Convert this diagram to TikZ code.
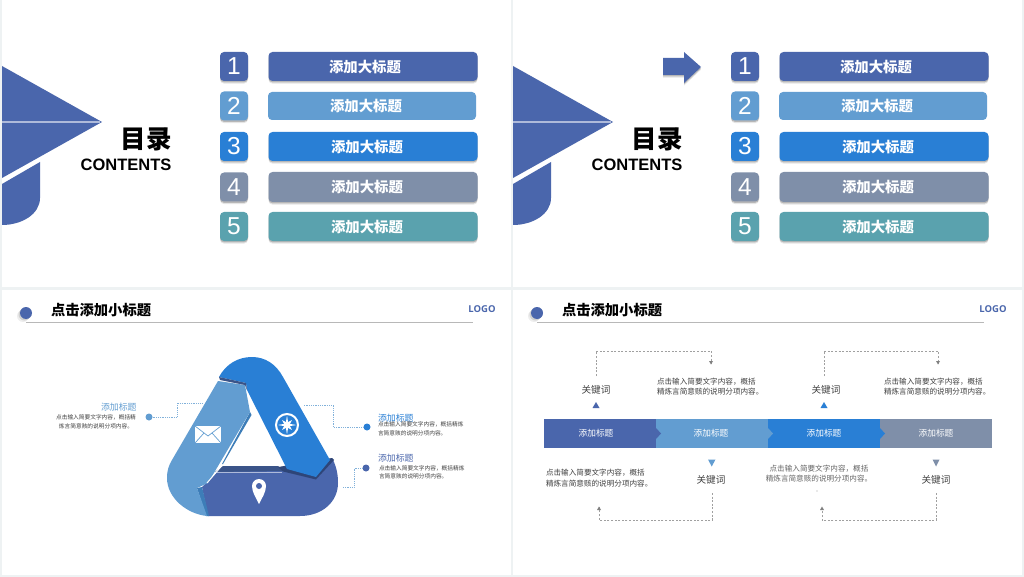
\documentclass[tikz,border=0pt]{standalone}
\usepackage{fontspec}
\setmainfont{Noto Sans CJK SC}
\newfontfamily\latinfont{Liberation Sans}
\newfontfamily\logofont{Open Sans}
\usetikzlibrary{shadows,shapes.geometric,arrows.meta}
\definecolor{acA}{HTML}{4A66AC}
\definecolor{acB}{HTML}{629DD1}
\definecolor{acC}{HTML}{297FD5}
\definecolor{acD}{HTML}{7F8FA9}
\definecolor{acE}{HTML}{5AA2AE}
\definecolor{paneBg}{HTML}{EEF2F3}
\definecolor{bodyText}{HTML}{404040}
\definecolor{navyDark}{HTML}{2E4578}
\definecolor{navyBack}{HTML}{3A5489}
\definecolor{lightSide}{HTML}{3D7DB8}
\definecolor{dashGray}{HTML}{A0A0A0}
\tikzset{
  softshadow/.style={
    drop shadow={shadow xshift=0pt,shadow yshift=-2.6pt,opacity=.10,fill=black},
    drop shadow={shadow xshift=0pt,shadow yshift=-1.4pt,opacity=.20,fill=black}},
  noshadow/.style={},
  tag/.style={inner sep=0pt,outer sep=0pt},
  numbox/.style={tag,rounded corners=4pt,minimum width=28pt,text=white,font=\latinfont\fontsize{24.5}{25}\selectfont},
  barbox/.style={tag,rounded corners=4pt},
  bartext/.style={tag,text=white,font=\bfseries\fontsize{14.4}{15}\selectfont},
  headtitle/.style={tag,anchor=west,text=black,font=\bfseries\fontsize{14.3}{15}\selectfont},
  logotext/.style={tag,text=acA,font=\logofont\bfseries\fontsize{9.5}{10}\selectfont},
  sectitle/.style={tag,anchor=west,font=\fontsize{8.9}{9}\selectfont},
  tinydesc/.style={tag,text=bodyText,font=\fontsize{5.7}{8.4}\selectfont},
  desc/.style={tag,text=bodyText,font=\fontsize{7.6}{10.7}\selectfont},
  keyword/.style={tag,text=bodyText,font=\fontsize{9.6}{10}\selectfont},
  segment/.style={tag,minimum width=112pt,minimum height=29pt,text=white,font=\fontsize{8.7}{9}\selectfont},
  linkdot/.style={tag,circle,minimum size=7pt},
  dotlink/.style={densely dotted,line width=.8pt,acB!80},
  dashlink/.style={dash pattern=on 2pt off 1.6pt,dashGray,line width=.6pt},
}
\begin{document}
\begin{tikzpicture}[x=1pt,y=-1pt]
\useasboundingbox (0,0) rectangle (1024,577);
\fill[paneBg] (0,0) rectangle (1024,577);
\fill[white] (2,0) rectangle (511,287);
\fill[white] (513,0) rectangle (1022,287);
\fill[white] (2,290) rectangle (511,575);
\fill[white] (513,290) rectangle (1022,575);

% ---------- contents slides ----------
\foreach \p/\ox in {a/0,b/511}{
\begin{scope}[shift={(\ox,0)}]
  \fill[acA] (2,66) -- (102,122) -- (2,178) -- cycle;
  \draw[white!55!acA,line width=1.1pt] (2,122) -- (100,122);
  \fill[acA] (40,162) -- (40,198) .. controls (40,214) and (22,225) .. (2,225) -- (2,184) -- cycle;
  \node[tag,anchor=east,text=black,font=\bfseries\fontsize{25.5}{26}\selectfont] (\p mulu) at (171.5,139) {目录};
  \node[tag,text=black,font=\latinfont\bfseries\fontsize{16.5}{17}\selectfont] (\p cont) at (126,165) {CONTENTS};
  \foreach \i/\y/\col/\bx/\bw/\bh/\tx/\shd in {
    1/66.5/acA/373/209/29/365/softshadow,
    2/106/acB/372/208/28/366/noshadow,
    3/146.5/acC/373/209/29/367/softshadow,
    4/187/acD/373/209/30/367/softshadow,
    5/226.5/acE/373/209/29/367/softshadow}{
    \node[numbox,fill=\col,minimum height=29pt,softshadow] (\p num\i) at (234,\y) {\i};
    \node[barbox,fill=\col,minimum width=\bw pt,minimum height=\bh pt,\shd] (\p bar\i) at (\bx,\y) {};
    \node[bartext] (\p txt\i) at (\tx,\y+.5) {添加大标题};
  }
\end{scope}
}
\path[fill=acA,softshadow] (663,58) -- (684,58) -- (684,52) -- (701,67) -- (684,83) -- (684,75) -- (663,75) -- cycle;

% ---------- headers ----------
\foreach \p/\ox in {c/0,d/511}{
\begin{scope}[shift={(\ox,0)}]
  \coordinate (\p ruleA) at (26,322);
  \coordinate (\p ruleB) at (473,322);
  \draw[black!28,line width=1pt] (\p ruleA) -- (\p ruleB);
  \node[tag,circle,fill=acA,minimum size=12pt,
    drop shadow={shadow xshift=-3pt,shadow yshift=-3pt,opacity=.07,fill=black},
    drop shadow={shadow xshift=-1.5pt,shadow yshift=-1.5pt,opacity=.12,fill=black}] (\p dot) at (26,313) {};
  \node[headtitle] (\p title) at (51,310.5) {点击添加小标题};
  \node[logotext] (\p logo) at (482,309.5) {LOGO};
\end{scope}
}

% ---------- triangle ----------
% bottom (navy) band
\fill[navyBack] (223,466) -- (278,466) -- (284,472) -- (215,472) -- cycle;
\fill[acA] (202,487) -- (217,472) -- (283,471) -- (316,479) -- (333,460)
  .. controls (337,468) and (338,476) .. (338,483)
  .. controls (338,502) and (322,516) .. (300,516) -- (208,516) -- cycle;
\draw[white!55!acA,line width=.6pt] (217,472) -- (282,472);
\fill[navyDark] (278,467) -- (332,458) -- (334,460) -- (316,479.5) -- (283,471.5) -- cycle;
% left (light blue) band
\fill[lightSide] (250,412) -- (251.5,415) -- (223,464) -- (222,464) -- cycle;
\fill[lightSide] (197,488) -- (202,487) -- (209,516) -- (206,516) -- cycle;
\fill[acB] (218,381) -- (245,385) -- (250,412) -- (208,483) -- (197,488) -- (207,516)
  .. controls (187,514) and (167,498) .. (167,478)
  .. controls (167,470) and (169,465) .. (172,460) -- cycle;
\draw[white,line width=1pt] (207,483) -- (222,465.5);
% right (blue) band
\fill[acC] (219,377) .. controls (226,364) and (238,357) .. (252,357)
  .. controls (265,357) and (276,364) .. (283,377)
  -- (330,460) -- (316,477) -- (287,469) -- (247,390) -- (246,383) -- cycle;
\fill[navyBack] (219,377) -- (246,383) -- (247,390) -- (245,385) -- (220,380) -- cycle;
% icons
\fill[white] (195,426) rectangle (221,443);
\draw[acB,line width=.7pt] (195,426) -- (208,436) -- (221,426) (195,443) -- (204,433) (221,443) -- (212,433);
\node[tag,circle,draw=white,line width=2pt,minimum size=22pt] (compass) at (287,425) {};
\node[tag,star,star points=4,star point ratio=5,fill=white,minimum size=19pt] (compassstar) at (287,425) {};
\node[tag,star,star points=4,star point ratio=3,fill=white,minimum size=14pt,rotate=45] (compassdiag) at (287,425) {};
\fill[white] (259,504) .. controls (256,498) and (252,492) .. (252,486) arc[start angle=180,end angle=360,radius=7] .. controls (266,492) and (262,498) .. (259,504) -- cycle;
\fill[acA] (259,486) circle[radius=3];

% triangle labels and connectors
\node[linkdot,fill=acB] (ldot) at (149,417) {};
\coordinate (lA) at (177,417); \coordinate (lB) at (177,403); \coordinate (lC) at (203,403);
\draw[dotlink] (ldot) -- (lA) -- (lB) -- (lC);
\node[sectitle,text=acB] (ltitle) at (101,407) {添加标题};
\node[tinydesc,align=center] (ldesc) at (96,422) {点击输入简要文字内容，概括精\\炼言简意赅的说明分项内容。};

\node[linkdot,fill=acC] (rdot) at (367,427) {};
\coordinate (rA) at (333,427); \coordinate (rB) at (333,405); \coordinate (rC) at (303,405);
\draw[dotlink] (rdot) -- (rA) -- (rB) -- (rC);
\node[sectitle,text=acC] (rtitle) at (378,418) {添加标题};
\node[tinydesc,align=left,anchor=west] (rdesc) at (378,429) {点击输入简要文字内容，概括精炼\\言简意赅的说明分项内容。};

\node[linkdot,fill=acA] (sdot) at (366,468) {};
\coordinate (sA) at (354,468); \coordinate (sB) at (354,487); \coordinate (sC) at (342,487);
\draw[dotlink] (sdot) -- (sA) -- (sB) -- (sC);
\node[sectitle,text=acA] (stitle) at (378,458) {添加标题};
\node[tinydesc,align=left,anchor=west] (sdesc) at (379,472.5) {点击输入简要文字内容，概括精炼\\言简意赅的说明分项内容。};

% ---------- timeline ----------
\foreach \i/\cx/\col/\tx in {4/936/acD/936,3/824/acC/824,2/712/acB/711,1/600/acA/596}{
  \node[segment,fill=\col] (seg\i) at (\cx,433.5) {};
  \node[tag,text=white,font=\fontsize{8.7}{9}\selectfont] (segt\i) at (\tx,433) {添加标题};
  \fill[\col] (\cx+56,428) -- (\cx+61,433.5) -- (\cx+56,439) -- cycle;
}
\fill[white] (992,419) rectangle (998,448);

% upper keywords
\node[keyword] (k1) at (596,390) {关键词};
\fill[acA] (592.5,408) -- (599.5,408) -- (596,402) -- cycle;
\coordinate (k1s) at (596,376); \coordinate (k1a) at (596,351); \coordinate (k1b) at (711,351); \coordinate (k1t) at (711,364);
\draw[dashlink] (k1s) -- (k1a) -- (k1b) -- (k1t);
\fill[black!50] (709,361) -- (713,361) -- (711,364.5) -- cycle;
\node[desc,align=left,anchor=west] (d1) at (657,386.5) {点击输入简要文字内容，概括\\精炼言简意赅的说明分项内容。};

\node[keyword] (k3) at (826,390) {关键词};
\fill[acC] (820.5,408) -- (827.5,408) -- (824,402) -- cycle;
\coordinate (k3s) at (824,376); \coordinate (k3a) at (824,351); \coordinate (k3b) at (938,351); \coordinate (k3t) at (938,364);
\draw[dashlink] (k3s) -- (k3a) -- (k3b) -- (k3t);
\fill[black!50] (936,361) -- (940,361) -- (938,364.5) -- cycle;
\node[desc,align=left,anchor=west] (d3) at (884,386.5) {点击输入简要文字内容，概括\\精炼言简意赅的说明分项内容。};

% lower keywords
\fill[acB] (708,459.5) -- (715.5,459.5) -- (711.7,466.5) -- cycle;
\node[keyword] (k2) at (711,480) {关键词};
\coordinate (k2s) at (712,493); \coordinate (k2a) at (712,520); \coordinate (k2b) at (599,520); \coordinate (k2t) at (599,507);
\draw[dashlink] (k2s) -- (k2a) -- (k2b) -- (k2t);
\fill[black!50] (597,510) -- (601,510) -- (599,506.5) -- cycle;
\node[desc,align=left,anchor=west] (d2) at (546,478) {点击输入简要文字内容，概括\\精炼言简意赅的说明分项内容。};

\fill[acD] (932.5,459.5) -- (939.5,459.5) -- (936,466.5) -- cycle;
\node[keyword] (k4) at (936,480) {关键词};
\coordinate (k4s) at (936,493); \coordinate (k4a) at (936,520); \coordinate (k4b) at (822,520); \coordinate (k4t) at (822,507);
\draw[dashlink] (k4s) -- (k4a) -- (k4b) -- (k4t);
\fill[black!50] (820,510) -- (824,510) -- (822,506.5) -- cycle;
\node[desc,align=center,text=bodyText!80] (d4) at (819,473.5) {点击输入简要文字内容，概括\\精炼言简意赅的说明分项内容。};
\fill[dashGray] (817,491) circle[radius=.7];
\end{tikzpicture}
\end{document}
